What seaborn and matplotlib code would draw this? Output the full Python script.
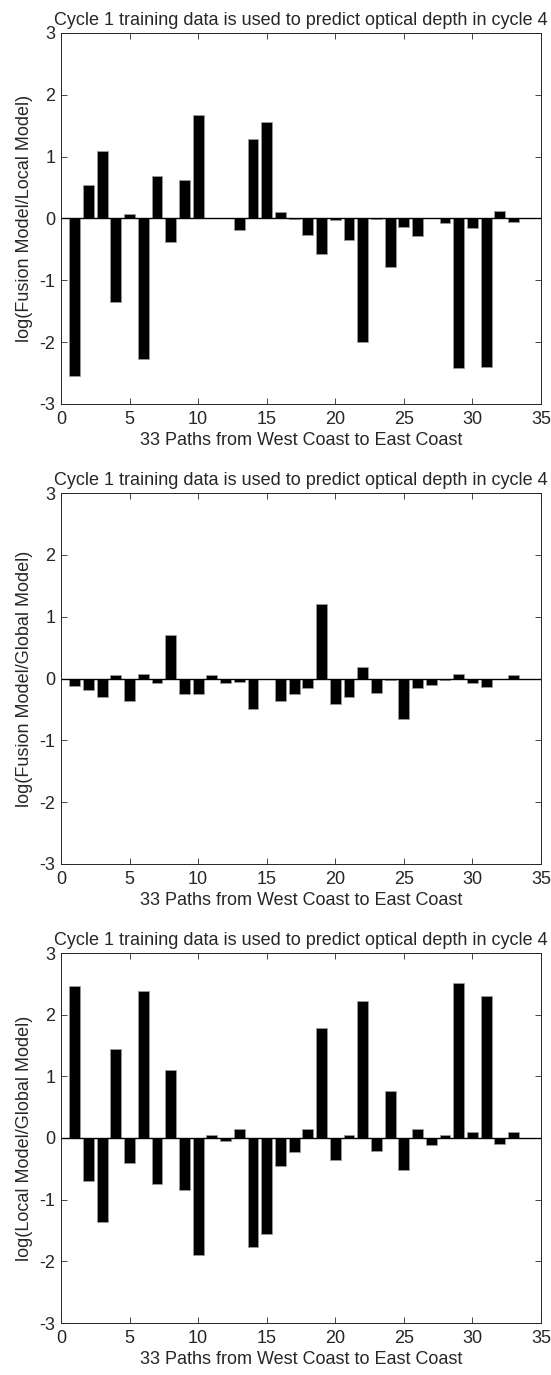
import numpy as np
import pandas as pd
import matplotlib
matplotlib.use("Agg")
import matplotlib.pyplot as plt
import seaborn as sns

sns.set_style("ticks")
plt.rcParams['font.family'] = ['Liberation Sans', 'DejaVu Sans']
plt.rcParams['axes.unicode_minus'] = False

paths = list(range(1, 34))

fusion_local = [-2.55, 0.54, 1.09, -1.35, 0.07, -2.28, 0.69, -0.38, 0.63, 1.67,
                0.005, 0.0, -0.18, 1.29, 1.56, 0.10, -0.005, -0.27, -0.58, -0.03,
                -0.34, -1.99, -0.005, -0.78, -0.14, -0.29, 0.0, -0.07, -2.42, -0.16,
                -2.40, 0.12, -0.05]

fusion_global = [-0.12, -0.19, -0.30, 0.05, -0.36, 0.07, -0.08, 0.70, -0.25, -0.25,
                 0.05, -0.08, -0.05, -0.50, 0.0, -0.36, -0.25, -0.16, 1.21, -0.41,
                 -0.30, 0.18, -0.23, -0.03, -0.65, -0.16, -0.11, -0.03, 0.07, -0.08,
                 -0.14, -0.005, 0.05]

local_global = [2.46, -0.70, -1.37, 1.44, -0.41, 2.39, -0.74, 1.10, -0.85, -1.90,
                0.05, -0.05, 0.14, -1.77, -1.55, -0.45, -0.23, 0.14, 1.79, -0.36,
                0.05, 2.22, -0.21, 0.76, -0.52, 0.14, -0.12, 0.05, 2.51, 0.10,
                2.30, -0.10, 0.10]

ylabels = ["log(Fusion Model/Local Model)",
           "log(Fusion Model/Global Model)",
           "log(Local Model/Global Model)"]
title = "Cycle 1 training data is used to predict optical depth in cycle 4"
xlabel = "33 Paths from West Coast to East Coast"

W, H = 551, 1375
fig = plt.figure(figsize=(W / 100, H / 100), dpi=100)
# axes boxes in pixels: (left, top, right, bottom)
boxes = [(61, 33, 541, 404), (61, 493, 541, 864), (61, 953, 541, 1323)]
fs = 13

for vals, ylab, (l, t, r, b) in zip([fusion_local, fusion_global, local_global], ylabels, boxes):
    ax = fig.add_axes([l / W, 1 - b / H, (r - l) / W, (b - t) / H])
    df = pd.DataFrame({"path": paths, "value": vals})
    sns.barplot(data=df, x="path", y="value", native_scale=True, width=0.8,
                color="black", edgecolor="#999999", linewidth=0.6,
                saturation=1, ax=ax)
    ax.axhline(0, color="black", linewidth=1.0)
    ax.set_xlim(0, 35)
    ax.set_ylim(-3, 3)
    ax.set_xticks(range(0, 36, 5))
    ax.set_yticks(range(-3, 4))
    ax.tick_params(direction="in", top=True, right=True, length=4, width=0.6,
                   labelsize=fs)
    ax.tick_params(axis="x", pad=5)
    ax.tick_params(axis="y", pad=4)
    for s in ax.spines.values():
        s.set_linewidth(0.7)
    ax.set_xlabel(xlabel, fontsize=fs, labelpad=3)
    ax.set_ylabel(ylab, fontsize=fs, labelpad=5)
    ax.set_title(title, fontsize=fs, pad=6)

fig.savefig("out.png", dpi=100)
